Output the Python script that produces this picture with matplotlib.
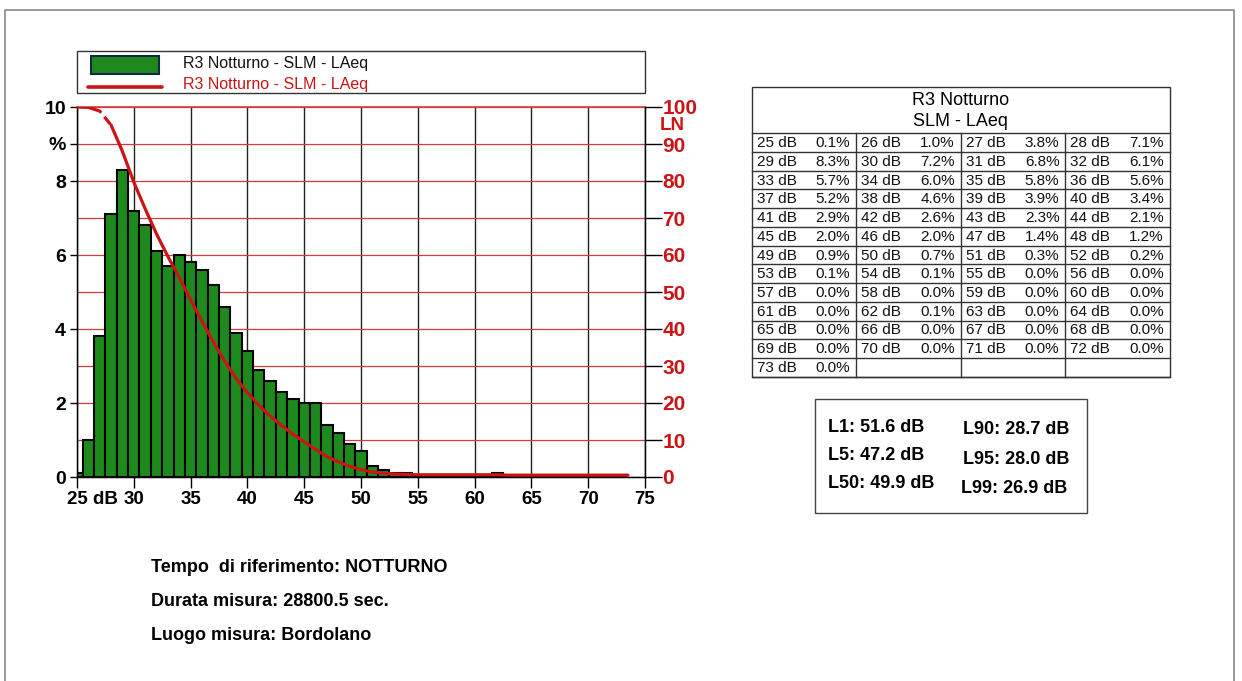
import numpy as np
import matplotlib
matplotlib.use("Agg")
import matplotlib.pyplot as plt
from matplotlib.patches import Rectangle
from matplotlib.ticker import MultipleLocator
import matplotlib.transforms as mtransforms

plt.rcParams['font.family'] = ['Liberation Sans', 'DejaVu Sans']

# ---------------- data ----------------
levels = list(range(25, 74))
pct = [0.1, 1.0, 3.8, 7.1, 8.3, 7.2, 6.8, 6.1, 5.7, 6.0, 5.8, 5.6, 5.2, 4.6, 3.9, 3.4,
       2.9, 2.6, 2.3, 2.1, 2.0, 2.0, 1.4, 1.2, 0.9, 0.7, 0.3, 0.2, 0.1, 0.1,
       0.0, 0.0, 0.0, 0.0, 0.0, 0.0, 0.0, 0.1, 0.0, 0.0, 0.0, 0.0, 0.0, 0.0,
       0.0, 0.0, 0.0, 0.0, 0.0]
x_ticks = [25, 30, 35, 40, 45, 50, 55, 60, 65, 70, 75]
x_labels = ['25 dB', '30', '35', '40', '45', '50', '55', '60', '65', '70', '75']
left_ticks = [0, 2, 4, 6, 8, 9, 10]
left_labels = ['0', '2', '4', '6', '8', '%', '10']
right_ticks = [0, 10, 20, 30, 40, 50, 60, 70, 80, 90, 100]
series_name = 'R3 Notturno - SLM - LAeq'
table_title = ['R3 Notturno', 'SLM - LAeq']
stats_left = ['L1: 51.6 dB', 'L5: 47.2 dB', 'L50: 49.9 dB']
stats_right = ['L90: 28.7 dB', 'L95: 28.0 dB', 'L99: 26.9 dB']
info_lines = ['Tempo  di riferimento: NOTTURNO', 'Durata misura: 28800.5 sec.',
              'Luogo misura: Bordolano']

# cumulative LN curve (percentage of time above each level)
cum_below = np.concatenate([[0.0], np.cumsum(pct)])
ln_x = np.concatenate([np.array(levels, float), [73.5]])
ln_y = 100.0 - cum_below

W, H = 1242, 681
fig = plt.figure(figsize=(W / 100, H / 100), dpi=100)

# page overlay in pixel coordinates
page = fig.add_axes([0, 0, 1, 1], zorder=0)
page.set_xlim(0, W)
page.set_ylim(H, 0)
page.axis('off')

GREEN = '#1e8a1e'
RED = '#cc1414'
GRID_RED = '#d83a3a'

# outer border
page.plot([5, 5, 1234, 1234], [H + 5, 10, 10, H + 5], color='#888888', lw=1.2)

# ---------------- main chart ----------------
L, R, T, B = 77, 645, 107, 477
ax = fig.add_axes([L / W, 1 - B / H, (R - L) / W, (B - T) / H], zorder=2)
ax.set_xlim(25, 75)
ax.set_ylim(0, 10)
ax.set_axisbelow(True)
ax.bar(levels, pct, width=1.0, color=GREEN, edgecolor='black', linewidth=1.5, zorder=2)

ax.set_xticks(x_ticks)
ax.set_xticklabels(x_labels, fontsize=13.5, fontweight='bold')
ax.set_yticks(left_ticks)
ax.set_yticklabels(left_labels, fontsize=14, fontweight='bold')
ax.yaxis.set_minor_locator(MultipleLocator(1))
ax.tick_params(axis='y', which='minor', length=0)
ax.tick_params(axis='y', which='major', length=5, width=1, pad=3)
ax.tick_params(axis='x', which='major', length=8, width=1, pad=2)
ax.grid(which='both', axis='y', color=GRID_RED, lw=0.9)
ax.grid(which='major', axis='x', color='#222222', lw=1.0)
ax.spines['top'].set_visible(False)
ax.axhline(10, color=GRID_RED, lw=1.2, clip_on=False, zorder=1)
for s in ['left', 'bottom', 'right']:
    ax.spines[s].set_color('black')
    ax.spines[s].set_linewidth(1.0)

# first label left aligned with offset
lbl0 = ax.get_xticklabels()[0]
lbl0.set_ha('left')
lbl0.set_transform(lbl0.get_transform() + mtransforms.ScaledTranslation(-10 / 100, 0, fig.dpi_scale_trans))

ax2 = ax.twinx()
ax2.set_ylim(0, 100)
ax2.set_yticks(right_ticks)
ax2.set_yticklabels([str(v) for v in right_ticks], fontsize=15, fontweight='bold', color=RED)
ax2.tick_params(axis='y', length=12, width=1, color='black', pad=0.5)
ax2.spines['top'].set_visible(False)
ax2.spines['right'].set_color('black')
ln_tr = mtransforms.blended_transform_factory(ax2.transAxes, ax2.transData) + \
    mtransforms.ScaledTranslation(15 / 100, 0, fig.dpi_scale_trans)
ax2.text(1.0, 95.0, 'LN', transform=ln_tr, fontsize=13.5, fontweight='bold', color=RED,
         va='center', ha='left', linespacing=0.8)

split = 3  # index of x = 28
ax2.plot(ln_x[:split + 1], ln_y[:split + 1], color=RED, lw=2.3, dashes=(8, 1.6, 3, 1.6), zorder=3)
ax2.plot(ln_x[split:], ln_y[split:], color=RED, lw=2.3, solid_capstyle='round', zorder=3)

# ---------------- legend box ----------------
page.add_patch(Rectangle((77, 51), 645 - 77, 42, fill=False, ec='#333333', lw=1.0))
page.add_patch(Rectangle((91, 55.5), 68, 18, fc=GREEN, ec='#102a40', lw=1.5))
page.plot([88, 162], [86.5, 86.5], color=RED, lw=2.6, solid_capstyle='round')
page.text(183, 63.5, series_name, fontsize=11.5, color='#111111', va='center', ha='left')
page.text(183, 84.5, series_name, fontsize=11.5, color=RED, va='center', ha='left')

# ---------------- table ----------------
tx0, tx1 = 751.7, 1170
ty0, thead = 87.3, 133.3
ncols = 4
nrows = int(np.ceil(len(levels) / ncols))
rh = (376.7 - thead) / nrows
cw = (tx1 - tx0) / ncols
lc = '#333333'
page.add_patch(Rectangle((tx0, ty0), tx1 - tx0, thead + nrows * rh - ty0, fill=False, ec=lc, lw=1.0))
page.text((tx0 + tx1) / 2, 100.5, table_title[0], fontsize=13, ha='center', va='center')
page.text((tx0 + tx1) / 2, 121, table_title[1], fontsize=13, ha='center', va='center')
for r in range(nrows + 1):
    yy = thead + r * rh
    page.plot([tx0, tx1], [yy, yy], color=lc, lw=1.0)
for c in range(1, ncols):
    xx = tx0 + c * cw
    page.plot([xx, xx], [thead, thead + nrows * rh], color=lc, lw=1.0)
for i, (lv, p) in enumerate(zip(levels, pct)):
    r, c = divmod(i, ncols)
    yc = thead + r * rh + rh / 2 + 0.5
    xl = tx0 + c * cw
    page.text(xl + 5, yc, f'{lv} dB', fontsize=11, ha='left', va='center', color='#111111')
    page.text(xl + cw - 6, yc, f'{p:.1f}%', fontsize=11, ha='right', va='center', color='#111111')

# ---------------- stats box ----------------
page.add_patch(Rectangle((815, 399), 1087 - 815, 513 - 399, fill=False, ec='#444444', lw=1.0))
for i, s in enumerate(stats_left):
    page.text(828, 427 + i * 28.5, s, fontsize=13, fontweight='bold', ha='left', va='center')
for i, s in enumerate(stats_right):
    page.text(963 - (2 if i == 2 else 0), 429.5 + i * 29.5, s, fontsize=13, fontweight='bold',
              ha='left', va='center')

# ---------------- info text ----------------
for i, s in enumerate(info_lines):
    page.text(151, 567 + i * 34.5, s, fontsize=13, fontweight='bold', ha='left', va='center')

fig.savefig('out.png', dpi=100)
